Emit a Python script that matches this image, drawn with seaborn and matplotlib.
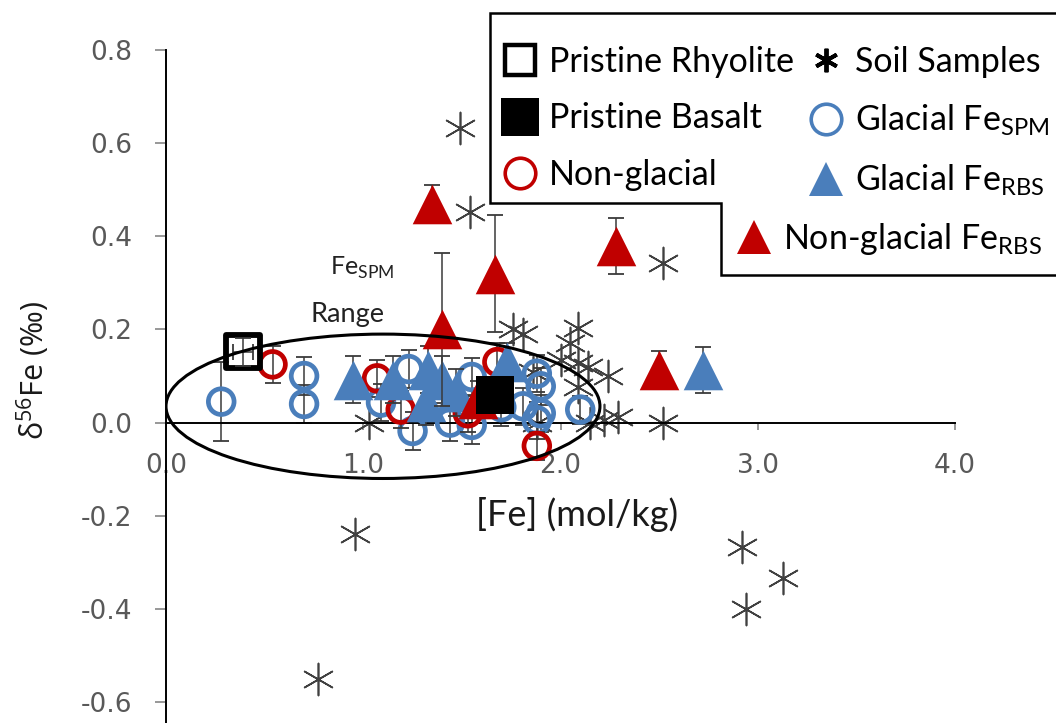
import numpy as np
import pandas as pd
import matplotlib
matplotlib.use("Agg")
import matplotlib.pyplot as plt
import seaborn as sns
from matplotlib.lines import Line2D
from matplotlib.patches import Ellipse, Polygon

# ---------------- data ----------------
soil_x = [1.49, 1.54, 2.52, 2.52, 0.77, 0.96, 2.92, 2.94, 3.13, 1.03, 1.76, 1.81,
          2.09, 2.05, 2.00, 2.09, 2.14, 2.24, 1.86, 2.09, 1.88, 2.15, 2.22, 2.29]
soil_y = [0.633, 0.453, 0.343, 0.000, -0.550, -0.240, -0.268, -0.400, -0.333, 0.000, 0.200, 0.190,
          0.204, 0.170, 0.135, 0.129, 0.120, 0.099, 0.109, 0.077, 0.000, 0.000, 0.006, 0.013]

gspm_x = [0.28, 0.70, 0.70, 1.09, 1.23, 1.25, 1.44, 1.55, 1.55, 1.70, 1.81, 1.88, 1.90, 1.90, 1.88, 2.10]
gspm_y = [0.045, 0.100, 0.040, 0.043, 0.115, -0.018, 0.000, 0.098, -0.005, 0.033, 0.035, 0.105, 0.078, 0.020, 0.005, 0.028]
gspm_e = [0.085, 0.040, 0.040, 0.040, 0.040, 0.040, 0.040, 0.040, 0.040, 0.040, 0.040, 0.040, 0.040, 0.040, 0.040, 0.030]

ng_x = [0.54, 1.07, 1.19, 1.68, 1.88, 1.53]
ng_y = [0.125, 0.095, 0.028, 0.130, -0.050, 0.020]
ng_e = [0.040, 0.040, 0.040, 0.040, 0.030, 0.040]

grbs_x = [0.95, 1.15, 1.33, 1.40, 1.32, 1.47, 1.73, 2.72]
grbs_y = [0.092, 0.092, 0.114, 0.092, 0.045, 0.065, 0.130, 0.113]
grbs_e = [0.050, 0.050, 0.050, 0.050, 0.050, 0.050, 0.040, 0.050]

ngrbs_x = [1.35, 1.40, 1.67, 2.28, 2.50, 1.58]
ngrbs_y = [0.470, 0.200, 0.320, 0.380, 0.114, 0.050]
ngrbs_e = [0.040, 0.165, 0.125, 0.060, 0.040, 0.040]

rhy_x, rhy_y, rhy_ye, rhy_xe = [0.39], [0.152], [0.03], [0.05]
bas_x, bas_y = [1.67], [0.06]

ticks_x = [0, 1, 2, 3, 4]
ticks_y = [-0.6, -0.4, -0.2, 0.0, 0.2, 0.4, 0.6, 0.8]

# ---------------- style ----------------
sns.set_theme(style="white")
plt.rcParams['font.family'] = ['Lato', 'DejaVu Sans']
plt.rcParams['axes.unicode_minus'] = False

BLUE = '#4A7EBB'
RED = '#C00000'
GREY = '#404040'
EB = '#3A3A3A'

fig = plt.figure(figsize=(10.56, 7.23), dpi=100)
ax = fig.add_axes([166/1056, 0, (955-166)/1056, 673/723])
ax.set_xlim(0, 4)
ax.set_ylim(-0.645, 0.8)

def ebar(x, y, e, z, xe=None):
    ax.errorbar(x, y, yerr=e, xerr=xe, fmt='none', ecolor=EB, elinewidth=1.1,
                capsize=5.5, capthick=1.3, zorder=z)

# soil samples
sns.scatterplot(x=soil_x, y=soil_y, ax=ax, marker=(6, 2, 0), s=23**2,
                color=GREY, linewidth=1.2, zorder=2, legend=False)
# glacial Fe SPM
ebar(gspm_x, gspm_y, gspm_e, 2.5)
sns.scatterplot(x=gspm_x, y=gspm_y, ax=ax, marker='o', s=18.5**2, color=BLUE,
                facecolor='none', edgecolor=BLUE, linewidth=3.4, zorder=3, legend=False)
# non-glacial
ebar(ng_x, ng_y, ng_e, 3.2)
sns.scatterplot(x=ng_x, y=ng_y, ax=ax, marker='o', s=18.5**2, color=RED,
                facecolor='none', edgecolor=RED, linewidth=3.4, zorder=3.5, legend=False)
# glacial Fe RBS
ebar(grbs_x, grbs_y, grbs_e, 3.8)
sns.scatterplot(x=grbs_x, y=grbs_y, ax=ax, marker='^', s=28.5**2, color=BLUE,
                edgecolor=BLUE, linewidth=0, zorder=4, legend=False)
# non-glacial Fe RBS
ebar(ngrbs_x, ngrbs_y, ngrbs_e, 4.8)
sns.scatterplot(x=ngrbs_x, y=ngrbs_y, ax=ax, marker='^', s=28.5**2, color=RED,
                edgecolor=RED, linewidth=0, zorder=5, legend=False)
# pristine rhyolite / basalt
ebar(rhy_x, rhy_y, rhy_ye, 6.2, xe=rhy_xe)
sns.scatterplot(x=rhy_x, y=rhy_y, ax=ax, marker='s', s=24**2, color='black',
                facecolor='none', edgecolor='black', linewidth=4.2, zorder=6, legend=False)
sns.scatterplot(x=bas_x, y=bas_y, ax=ax, marker='s', s=28**2, color='black',
                edgecolor='black', linewidth=0, zorder=6, legend=False)

# Fe SPM range ellipse
ax.add_patch(Ellipse((1.1, 0.035), 2.2, 0.31, fill=False, ec='black', lw=2.2, zorder=7))
ax.text(0.995, 0.333, r'Fe$_{\mathregular{SPM}}$', ha='center', va='center',
        fontsize=18, color='#222222')
ax.text(0.92, 0.232, 'Range', ha='center', va='center', fontsize=19.5, color='#222222')

# axes
for s in ['top', 'right']:
    ax.spines[s].set_visible(False)
ax.spines['bottom'].set_position(('data', 0))
for s in ['left', 'bottom']:
    ax.spines[s].set_color('black')
    ax.spines[s].set_linewidth(1.4)
ax.set_xticks(ticks_x)
ax.set_xticklabels([f'{v:.1f}' for v in ticks_x])
ax.set_yticks(ticks_y)
ax.set_yticklabels([f'{v:.1f}' for v in ticks_y])
ax.tick_params(axis='x', direction='out', length=5, width=1.2, color='#868686',
               pad=17, labelsize=19, labelcolor='#595959', bottom=True)
ax.tick_params(axis='y', direction='out', length=8, width=1.2, color='#868686',
               pad=16, labelsize=19, labelcolor='#595959', left=True)
for lab in ax.get_xticklabels() + ax.get_yticklabels():
    lab.set_family('DejaVu Sans')

ax.set_xlabel('[Fe] (mol/kg)', fontsize=26, color='#1a1a1a', va='center')
ax.xaxis.set_label_coords((577 - 166) / 789, (723 - 514) / 673, transform=ax.transAxes)
ax.set_ylabel(r'δ$^{\mathregular{56}}$Fe (‰)', fontsize=22, color='#1a1a1a',
              family=['Open Sans', 'DejaVu Sans'])
ax.yaxis.set_label_coords((52 - 166) / 789, (723 - 370) / 673, transform=ax.transAxes)

# legend frame (L-shaped)
W, H = 1056, 723
pts = [(1070, 13), (490, 13), (490, 203), (721, 203), (721, 275), (1070, 275)]
poly = Polygon([(x / W, 1 - y / H) for x, y in pts], closed=False, fc='white',
               ec='black', lw=1.8, transform=fig.transFigure, zorder=10, clip_on=False)
fig.add_artist(poly)

def h(marker, ms, mfc, mec, mew):
    return Line2D([], [], ls='none', marker=marker, ms=ms, mfc=mfc, mec=mec, mew=mew)

col1 = [h('s', 22, 'none', 'black', 3.2), h('s', 28, 'black', 'black', 0),
        h('o', 22, 'none', RED, 2.6)]
col1_l = ['Pristine Rhyolite', 'Pristine Basalt', 'Non-glacial']
col2 = [h((6, 2, 0), 17, 'none', 'black', 2.8), h('o', 22, 'none', BLUE, 2.6),
        h('^', 24, BLUE, BLUE, 0)]
col2_l = ['Soil Samples', r'Glacial Fe$_{\mathregular{SPM}}$', r'Glacial Fe$_{\mathregular{RBS}}$']
col3 = [h('^', 25, RED, RED, 0)]
col3_l = [r'Non-glacial Fe$_{\mathregular{RBS}}$']

common = dict(frameon=False, fontsize=24.5, borderpad=0, borderaxespad=0,
              handlelength=1.0, handletextpad=0.35, labelspacing=0.72,
              labelcolor='black')
for hs, ls, (px, py) in [(col1, col1_l, (503, 46)), (col2, col2_l, (809, 46)),
                         (col3, col3_l, (737, 221))]:
    leg = fig.legend(hs, ls, loc='upper left', bbox_to_anchor=(px / W, 1 - py / H),
                     **common)
    leg.set_zorder(11)

fig.savefig('out.png', dpi=100)
